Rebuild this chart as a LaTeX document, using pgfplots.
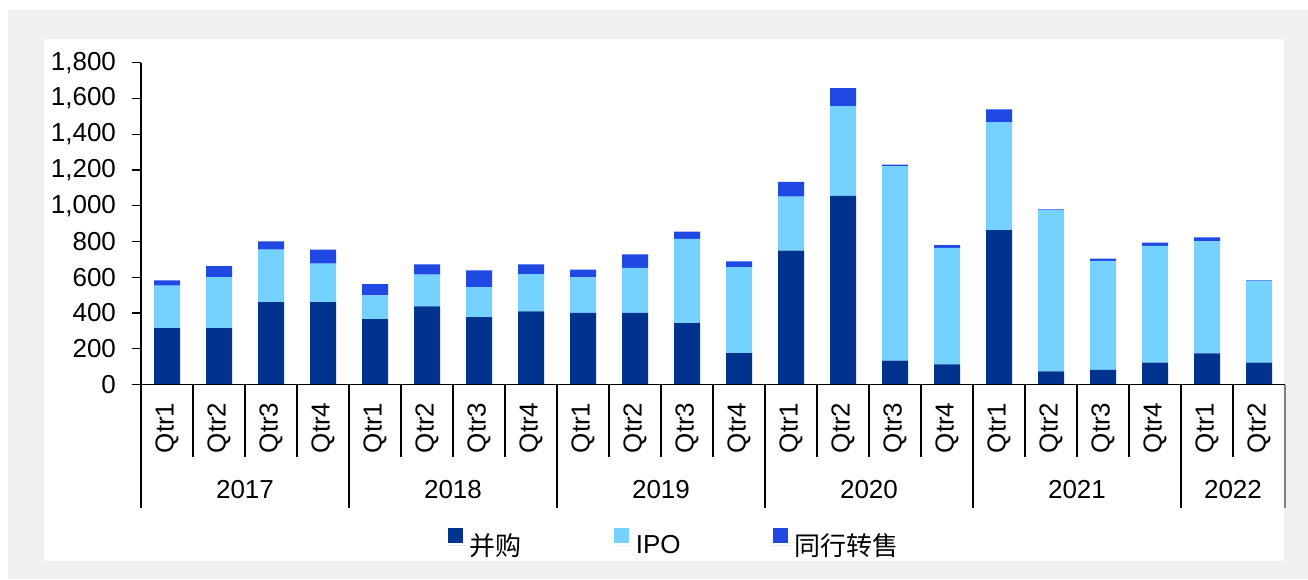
\documentclass[border=0pt]{standalone}
\usepackage{fontspec}
\setmainfont{Liberation Sans}
\newfontfamily\cjk{Noto Sans CJK SC}
\usepackage{pgfplots}
\usepackage{pgfplotstable}
\pgfplotsset{compat=1.18}
\definecolor{mna}{HTML}{00338D}
\definecolor{ipo}{HTML}{75D2FF}
\definecolor{sec}{HTML}{1F49E2}
\definecolor{frame}{HTML}{F0F0F0}

% quarter, M&A, IPO, secondary sale
\pgfplotstableread{
i m p s
0 316 237 30
1 316 284 62
2 461 293 47
3 461 215 78
4 366 133 62
5 437 177 58
6 377 168 94
7 409 209 54
8 400 199 43
9 401 252 75
10 344 470 41
11 176 481 32
12 749 302 82
13 1055 502 101
14 133 1088 9
15 112 652 15
16 863 605 71
17 73 902 5
18 82 609 13
19 123 652 19
20 174 627 22
21 123 456 4
}\exits

\begin{document}
\begin{tikzpicture}
\path[use as bounding box] (0pt,0pt) rectangle (654pt,289.5pt);
\fill[white] (0pt,0pt) rectangle (654pt,289.5pt);
\fill[frame] (4pt,0pt) rectangle (654pt,284.5pt);
\fill[white] (22pt,9pt) rectangle (642pt,270pt);
\begin{axis}[
  at={(70.5pt,97.25pt)}, anchor=south west,
  scale only axis, width=572pt, height=160.9pt,
  ybar stacked, bar width=13pt, clip=false,
  xmin=-0.5, xmax=21.5, ymin=0, ymax=1800,
  axis lines*=left, axis line style={-, line width=0.6pt},
  axis on top,
  ytick={0,200,...,1800},
  xtick={0,...,21},
  xticklabels={Qtr1,Qtr2,Qtr3,Qtr4,Qtr1,Qtr2,Qtr3,Qtr4,Qtr1,Qtr2,Qtr3,Qtr4,
    Qtr1,Qtr2,Qtr3,Qtr4,Qtr1,Qtr2,Qtr3,Qtr4,Qtr1,Qtr2},
  xtick style={draw=none},
  ytick style={line width=0.6pt, black},
  tick align=outside, major tick length=4.5pt,
  tick label style={font=\fontsize{13}{15}\selectfont},
  xticklabel style={rotate=90, anchor=east},
  xticklabel shift=1pt,
  yticklabel style={xshift=-4.5pt},
  /pgf/number format/.cd, 1000 sep={,}, assume math mode=true, /pgfplots/.cd,
  legend columns=3,
  legend style={draw=none, fill=none, at={(0.467,-0.499)}, anchor=center,
    font=\fontsize{13}{15}\selectfont,
    /tikz/every even column/.append style={column sep=44pt}},
  legend image code/.code={\path (0pt,0pt) -- (9pt,0pt);
    \fill[#1] (0pt,1.5pt) rectangle (7.5pt,9pt);},
]
\addplot[fill=mna, draw=none] table[x=i, y=m] {\exits};
\addlegendentry{\cjk 并购}
\addplot[fill=ipo, draw=none] table[x=i, y=p] {\exits};
\addlegendentry{IPO}
\addplot[fill=sec, draw=none] table[x=i, y=s] {\exits};
\addlegendentry{\cjk 同行转售}
\pgfplotsinvokeforeach{-0.5,0.5,...,20.5}{\draw[line width=0.6pt] (axis cs:#1,0) -- ++(0pt,-36pt);}
\pgfplotsinvokeforeach{-0.5,3.5,7.5,11.5,15.5,19.5}{\draw[line width=0.6pt] (axis cs:#1,0) -- ++(0pt,-61.5pt);}
\draw[line width=0.6pt, gray] (axis cs:21.5,0) -- ++(0pt,-61.5pt);
\node[font=\fontsize{13}{15}\selectfont] at (axis cs:1.5,0) [yshift=-52.75pt] {2017};
\node[font=\fontsize{13}{15}\selectfont] at (axis cs:5.5,0) [yshift=-52.75pt] {2018};
\node[font=\fontsize{13}{15}\selectfont] at (axis cs:9.5,0) [yshift=-52.75pt] {2019};
\node[font=\fontsize{13}{15}\selectfont] at (axis cs:13.5,0) [yshift=-52.75pt] {2020};
\node[font=\fontsize{13}{15}\selectfont] at (axis cs:17.5,0) [yshift=-52.75pt] {2021};
\node[font=\fontsize{13}{15}\selectfont] at (axis cs:20.5,0) [yshift=-52.75pt] {2022};
\end{axis}
\end{tikzpicture}
\end{document}
